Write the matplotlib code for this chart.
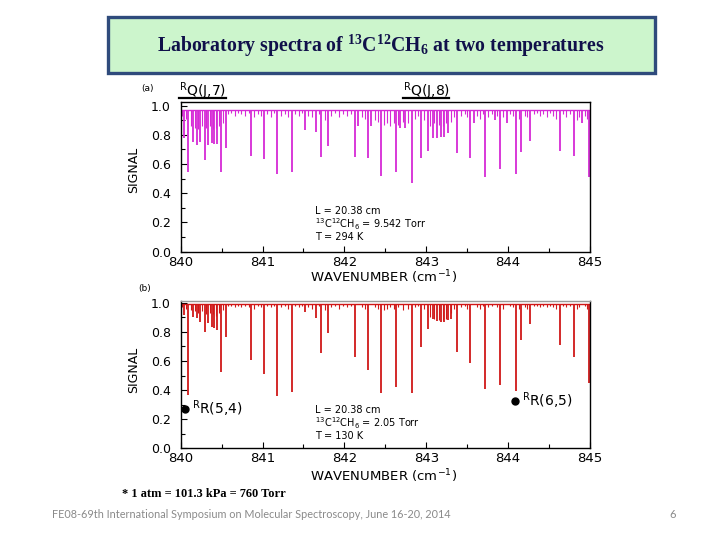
import matplotlib
matplotlib.use("Agg")
import matplotlib.pyplot as plt
from matplotlib.patches import Rectangle
from matplotlib.lines import Line2D
from matplotlib.ticker import MultipleLocator

plt.rcParams['mathtext.fontset'] = 'custom'
plt.rcParams['mathtext.rm'] = 'Liberation Serif:bold'
plt.rcParams['mathtext.bf'] = 'Liberation Serif:bold'
plt.rcParams['mathtext.it'] = 'Liberation Serif:italic:bold'

# ---------------- data ----------------
title_text = "Laboratory spectra of $^{13}$C$^{12}$CH$_{6}$ at two temperatures"
x_ticks = [840, 841, 842, 843, 844, 845]
y_ticks = [0.0, 0.2, 0.4, 0.6, 0.8, 1.0]

# panel (a): 294 K, line centres (cm-1) and minimum signal
a_pos = [840.044, 840.085, 840.146, 840.195, 840.240, 840.293, 840.337, 840.378, 840.410, 840.447,
         840.492, 840.550, 840.862, 841.020, 841.180, 841.360, 841.520, 841.652, 841.720, 841.795,
         842.128, 842.170, 842.283, 842.330, 842.446, 842.629, 842.680, 842.740, 842.820, 842.930,
         843.020, 843.077, 843.126, 843.175, 843.220, 843.260, 843.380, 843.540, 843.585, 843.720,
         843.840, 843.900, 843.980, 844.095, 844.156, 844.270, 844.630, 844.800, 844.900, 844.985]
a_min = [0.777, 0.544, 0.753, 0.731, 0.753, 0.628, 0.731, 0.743, 0.738, 0.738,
         0.548, 0.708, 0.658, 0.633, 0.532, 0.548, 0.834, 0.818, 0.651, 0.726,
         0.651, 0.860, 0.640, 0.860, 0.521, 0.544, 0.850, 0.850, 0.468, 0.640,
         0.690, 0.780, 0.780, 0.786, 0.786, 0.810, 0.674, 0.640, 0.880, 0.514,
         0.900, 0.566, 0.880, 0.530, 0.685, 0.760, 0.690, 0.658, 0.880, 0.514]

# weak lines (shared centres)
weak_pos = [840.020, 840.065, 840.120, 840.170, 840.215, 840.265, 840.315, 840.355, 840.395, 840.430,
            840.470, 840.520, 840.580, 840.620, 840.660, 840.700, 840.740, 840.790, 840.830, 840.900,
            840.940, 840.980, 841.060, 841.100, 841.140, 841.220, 841.270, 841.310, 841.400, 841.440,
            841.480, 841.560, 841.600, 841.690, 841.760, 841.840, 841.880, 841.930, 841.980, 842.030,
            842.080, 842.210, 842.250, 842.370, 842.410, 842.480, 842.520, 842.560, 842.600, 842.660,
            842.710, 842.780, 842.860, 842.900, 842.970, 843.050, 843.100, 843.150, 843.200, 843.240,
            843.300, 843.340, 843.430, 843.470, 843.500, 843.620, 843.660, 843.690, 843.760, 843.800,
            843.870, 843.940, 844.020, 844.060, 844.130, 844.200, 844.230, 844.310, 844.350, 844.390,
            844.430, 844.470, 844.510, 844.550, 844.590, 844.670, 844.710, 844.750, 844.840, 844.870,
            844.940, 844.960]
a_weak_min = [0.93, 0.91, 0.86, 0.85, 0.84, 0.86, 0.85, 0.86, 0.84, 0.85,
              0.86, 0.88, 0.94, 0.95, 0.93, 0.95, 0.94, 0.93, 0.95, 0.92,
              0.94, 0.93, 0.94, 0.92, 0.95, 0.93, 0.94, 0.92, 0.94, 0.93,
              0.95, 0.93, 0.92, 0.94, 0.90, 0.93, 0.95, 0.92, 0.94, 0.93,
              0.94, 0.92, 0.91, 0.90, 0.89, 0.87, 0.88, 0.86, 0.88, 0.87,
              0.89, 0.88, 0.91, 0.93, 0.90, 0.86, 0.88, 0.87, 0.86, 0.88,
              0.89, 0.92, 0.93, 0.94, 0.92, 0.93, 0.91, 0.94, 0.92, 0.94,
              0.93, 0.92, 0.94, 0.93, 0.91, 0.93, 0.92, 0.94, 0.95, 0.93,
              0.94, 0.92, 0.95, 0.93, 0.91, 0.94, 0.92, 0.94, 0.90, 0.92,
              0.93, 0.91]
a_base = 0.97

# panel (b): 130 K
b_pos = [840.044, 840.085, 840.146, 840.195, 840.240, 840.293, 840.337, 840.378, 840.410, 840.447,
         840.492, 840.550, 840.862, 841.020, 841.180, 841.360, 841.520, 841.652, 841.720, 841.795,
         842.128, 842.283, 842.446, 842.629, 842.820, 842.930, 843.020, 843.077, 843.126, 843.175,
         843.220, 843.260, 843.300, 843.380, 843.540, 843.720, 843.900, 844.095, 844.156, 844.270,
         844.630, 844.800, 844.985]
b_min = [0.915, 0.366, 0.904, 0.893, 0.870, 0.800, 0.858, 0.835, 0.824, 0.810,
         0.526, 0.767, 0.606, 0.510, 0.359, 0.389, 0.938, 0.893, 0.657, 0.794,
         0.629, 0.538, 0.382, 0.419, 0.378, 0.694, 0.817, 0.890, 0.875, 0.870,
         0.870, 0.880, 0.890, 0.664, 0.588, 0.405, 0.435, 0.396, 0.744, 0.854,
         0.710, 0.629, 0.446]
b_weak_min = [0.97, 0.96, 0.95, 0.94, 0.93, 0.94, 0.92, 0.93, 0.92, 0.91,
              0.93, 0.95, 0.98, 0.98, 0.97, 0.98, 0.97, 0.98, 0.97, 0.96,
              0.98, 0.97, 0.98, 0.97, 0.98, 0.97, 0.98, 0.96, 0.98, 0.97,
              0.98, 0.97, 0.96, 0.98, 0.95, 0.97, 0.98, 0.96, 0.98, 0.97,
              0.98, 0.97, 0.96, 0.97, 0.96, 0.95, 0.96, 0.97, 0.96, 0.97,
              0.95, 0.96, 0.97, 0.98, 0.96, 0.90, 0.89, 0.88, 0.88, 0.89,
              0.93, 0.96, 0.97, 0.98, 0.96, 0.97, 0.96, 0.98, 0.97, 0.98,
              0.97, 0.96, 0.98, 0.97, 0.96, 0.97, 0.96, 0.98, 0.98, 0.97,
              0.98, 0.97, 0.98, 0.97, 0.96, 0.98, 0.97, 0.98, 0.96, 0.97,
              0.98, 0.96]
b_base = 0.99

cond_a = ['L = 20.38 cm', r'$^{13}$C$^{12}$CH$_{6}$ = 9.542 Torr', 'T = 294 K']
cond_b = ['L = 20.38 cm', r'$^{13}$C$^{12}$CH$_{6}$ = 2.05 Torr', 'T = 130 K']

# ---------------- figure ----------------
W, H = 720, 540
fig = plt.figure(figsize=(7.2, 5.4), dpi=100)
fig.patch.set_facecolor('white')


def fx(x):
    return x / W


def fy(y):
    return 1 - y / H


# title box
fig.patches.append(Rectangle((fx(108), fy(73)), (655 - 108) / W, (73 - 17) / H,
                             transform=fig.transFigure, facecolor='#CCF5CC',
                             edgecolor='#2F4B7C', linewidth=2.4, zorder=0))
fig.text(fx(381), fy(46), title_text, ha='center', va='center', fontsize=14.2,
         family='Liberation Serif', weight='bold', color='#10104A')


def make_panel(bottom_px, top_px, ytop, pos, mins, wpos, wmins, base, color, topcolor):
    ax = fig.add_axes([fx(180.7), fy(bottom_px), (590 - 180.7) / W, (bottom_px - top_px) / H])
    ax.set_xlim(840, 845)
    ax.set_ylim(0, ytop)
    ax.hlines(base, 840, 845, color=color, lw=1.0)
    ax.vlines(wpos, wmins, base, color=color, lw=0.8)
    ax.vlines(pos, mins, base, color=color, lw=1.3)
    ax.set_xticks(x_ticks)
    ax.set_yticks(y_ticks)
    ax.set_yticklabels(['%.1f' % v for v in y_ticks])
    ax.xaxis.set_minor_locator(MultipleLocator(0.5))
    ax.yaxis.set_minor_locator(MultipleLocator(0.1))
    ax.tick_params(which='both', direction='in', top=False, right=False,
                   labelsize=9, width=0.8)
    ax.tick_params(axis='x', labelsize=9.5, pad=3)
    ax.tick_params(which='major', length=4)
    ax.tick_params(which='minor', length=3)
    ax.tick_params(axis='y', pad=7)
    for s in ax.spines.values():
        s.set_linewidth(1.0)
    ax.spines['top'].set_color(topcolor)
    return ax


ax_a = make_panel(251.7, 102.0, 1.025, a_pos, a_min, weak_pos, a_weak_min, a_base,
                  '#D62AD6', 'black')
ax_b = make_panel(448.3, 300.7, 1.014, b_pos, b_min, weak_pos, b_weak_min, b_base,
                  '#D01818', '#9A9A9A')

# axis labels
for yc in (170, 370):
    fig.text(fx(134), fy(yc), 'SIGNAL', rotation=90, ha='center', va='center',
             fontsize=9)
for yc in (277, 476):
    fig.text(fx(384), fy(yc), r'WAVENUMBER (cm$^{-1}$)', ha='center', va='center',
             fontsize=9.5, math_fontfamily='dejavusans')

fig.text(fx(147), fy(89), '(a)', ha='center', va='center', fontsize=6.5)
fig.text(fx(145), fy(289), '(b)', ha='center', va='center', fontsize=6.5)

# band labels (underlined)
for x0, x1, lab in ((179, 226, r'$^{\mathrm{R}}$Q(J,7)'), (403, 449, r'$^{\mathrm{R}}$Q(J,8)')):
    fig.text(fx(x0), fy(91), lab, ha='left', va='center', fontsize=10,
             math_fontfamily='dejavusans')
    fig.add_artist(Line2D([fx(x0), fx(x1)], [fy(98.5), fy(98.5)], transform=fig.transFigure,
                          color='black', lw=1.6))

# experimental conditions
for lines, yc in ((cond_a, 224), (cond_b, 423)):
    fig.text(fx(315), fy(yc), '\n'.join(lines), ha='left', va='center', fontsize=7,
             linespacing=1.05, math_fontfamily='dejavusans')

# assignments in panel b
for xd, yd, lab in ((185.5, 409, r'$^{\mathrm{R}}$R(5,4)'), (515, 401, r'$^{\mathrm{R}}$R(6,5)')):
    fig.add_artist(Line2D([fx(xd)], [fy(yd)], transform=fig.transFigure, marker='o',
                          markersize=5, color='black', linestyle='none'))
    fig.text(fx(xd + 7), fy(yd), lab, ha='left', va='center', fontsize=10,
             math_fontfamily='dejavusans')

fig.text(fx(122), fy(494), '* 1 atm = 101.3 kPa = 760 Torr', ha='left', va='center',
         fontsize=8.9, family='Liberation Serif', weight='bold', color='black')

fig.text(fx(52), fy(515), 'FE08-69th International Symposium on Molecular Spectroscopy, June 16-20, 2014',
         ha='left', va='center', fontsize=7.8, family='Lato', color='#8A8A8A')
fig.text(fx(673), fy(515), '6', ha='center', va='center', fontsize=8, family='Lato',
         color='#8A8A8A')

fig.savefig('out.png', dpi=100, facecolor='white')
